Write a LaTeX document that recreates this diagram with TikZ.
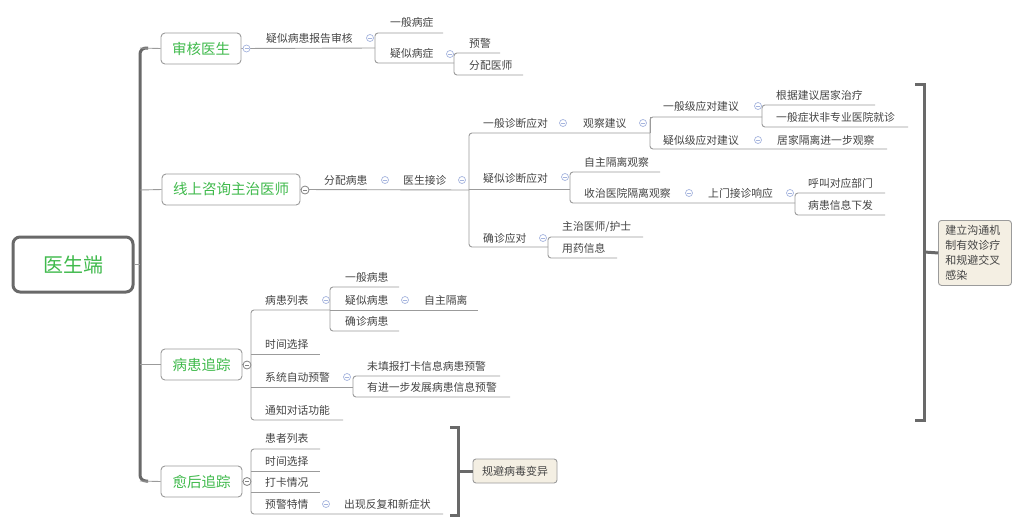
\documentclass[tikz,border=0pt]{standalone}
\usepackage{fontspec}
\newfontfamily\cjk{Noto Sans CJK SC}
\definecolor{grn}{RGB}{64,186,76}
\definecolor{tx}{RGB}{68,68,68}
\definecolor{lnc}{RGB}{155,155,155}
\definecolor{dk}{RGB}{105,105,105}
\definecolor{cb}{RGB}{165,180,222}
\definecolor{cg}{RGB}{130,130,130}
\definecolor{notef}{RGB}{244,239,227}
\newcommand{\tp}[4]{\node[txt] (#1) at (#2,#3) {#4};}
\begin{document}
\begin{tikzpicture}[x=1pt,y=-1pt,
  txt/.style={anchor=west, inner sep=0pt, font=\cjk\fontsize{10.8}{12}\selectfont, text=tx},
  ln/.style={draw=lnc, line width=0.9pt},
  brk/.style={draw=lnc, line width=0.9pt, rounded corners=3pt},
  trunk/.style={draw=dk, line width=3pt, rounded corners=6pt},
  bigbrk/.style={draw=dk, line width=3pt},
  box/.style={draw=lnc, line width=0.9pt, rounded corners=4pt, fill=white, inner sep=0pt,
    font=\cjk\fontsize{14.5}{16}\selectfont, text=grn, minimum height=31pt},
  rootbox/.style={draw=dk, line width=3pt, rounded corners=7pt, fill=white, inner sep=0pt,
    font=\cjk\fontsize{20}{22}\selectfont, text=grn, minimum width=120pt, minimum height=55pt},
  note/.style={draw=lnc, line width=0.9pt, rounded corners=3pt, fill=notef,
    font=\cjk\fontsize{11}{15}\selectfont, text=tx},
  colb/.style={circle, draw=cb, fill=white, line width=0.7pt, minimum size=7pt, inner sep=0pt,
    path picture={\draw[cb, line width=0.7pt] ([xshift=-2pt]path picture bounding box.center) -- ([xshift=2pt]path picture bounding box.center);}},
  colg/.style={circle, draw=cg, fill=white, line width=0.8pt, minimum size=8pt, inner sep=0pt,
    path picture={\draw[cg, line width=0.7pt] ([xshift=-2pt]path picture bounding box.center) -- ([xshift=2pt]path picture bounding box.center);}}
]
\useasboundingbox (0,0) rectangle (1024,530);
\fill[white] (0,0) rectangle (1024,530);

% ---------- trunk ----------
\draw[trunk] (148,48) -- (140,48) -- (140,481) -- (148,481);
\node[rootbox] (root) at (73,264.5) {医生端};
\node[box, minimum width=80pt] (A) at (201,48.5) {审核医生};
\node[box, minimum width=138pt] (B) at (231,189.5) {线上咨询主治医师};
\node[box, minimum width=81pt] (C) at (201.5,364.5) {病患追踪};
\node[box, minimum width=81pt] (D) at (201.5,481.5) {愈后追踪};
\coordinate (tA) at (140,48);
\coordinate (tB) at (140,190);
\coordinate (tC) at (140,364.5);
\coordinate (tD) at (140,481);
\coordinate (tR) at (140,264.5);
\draw[ln] (root.east) -- (tR);
\draw[ln] (tA) -- (A.west);
\draw[ln] (tB) -- (B.west);
\draw[ln] (tC) -- (C.west);
\draw[ln] (tD) -- (D.west);

% ---------- A subtree ----------
\draw[ln] (A.east) -- (375,48);
\node[colb] (cA) at (246.5,48.5) {};
\tp{a1}{266}{38}{疑似病患报告审核}
\node[colb] (ca1) at (370,38) {};
\draw[brk] (443,33) -- (375,33) -- (375,63) -- (454,63);
\tp{a11}{390}{22}{一般病症}
\tp{a12}{390}{53.5}{疑似病症}
\node[colb] (ca12) at (450,54) {};
\draw[brk] (500,53) -- (454,53) -- (454,75) -- (523,75);
\tp{a121}{469}{43}{预警}
\tp{a122}{469}{65}{分配医师}

% ---------- B subtree ----------
\draw[ln] (B.east) -- (469,190);
\node[colg] (cB) at (305,190) {};
\tp{b1}{324}{180}{分配病患}
\node[colb] (cb1) at (385,180) {};
\tp{b2}{403}{180}{医生接诊}
\node[colb] (cb2) at (462,180) {};
\draw[brk] (650,133) -- (469,133) -- (469,247) -- (548,247);
\draw[ln] (469,189) -- (570,189);
% 一般诊断应对
\tp{b21}{483}{123}{一般诊断应对}
\node[colb] (cb21) at (563,123) {};
\tp{b211}{583}{123}{观察建议}
\node[colb] (cb211) at (643,123) {};
\draw[brk] (762,117) -- (650,117) -- (650,149) -- (887,149);
\draw[ln] (650,133) -- (650,117);
\tp{b2111}{663}{106}{一般级应对建议}
\node[colb] (cb2111) at (758,106) {};
\draw[brk] (875,105) -- (762,105) -- (762,127) -- (908,127);
\tp{b21111}{776}{95}{根据建议居家治疗}
\tp{b21112}{776}{117}{一般症状非专业医院就诊}
\tp{b2112}{663}{140}{疑似级应对建议}
\node[colb] (cb2112) at (758,140) {};
\tp{b21121}{777}{140}{居家隔离进一步观察}
% 疑似诊断应对
\tp{b22}{483}{178}{疑似诊断应对}
\node[colb] (cb22) at (565,177) {};
\draw[brk] (660,172) -- (570,172) -- (570,203) -- (795,203);
\tp{b221}{584}{162}{自主隔离观察}
\tp{b222}{584}{193}{收治医院隔离观察}
\node[colb] (cb222) at (689,193) {};
\tp{b2221}{708}{193}{上门接诊响应}
\node[colb] (cb2221) at (790,193) {};
\draw[brk] (885,193) -- (795,193) -- (795,215) -- (885,215);
\tp{b22211}{808}{183}{呼叫对应部门}
\tp{b22212}{808}{205}{病患信息下发}
% 确诊应对
\tp{b23}{483}{238}{确诊应对}
\node[colb] (cb23) at (543,238) {};
\draw[brk] (643,237) -- (548,237) -- (548,258) -- (617,258);
\tp{b231}{562}{227}{主治医师/护士}
\tp{b232}{562}{248}{用药信息}

% big bracket right
\draw[bigbrk] (915,84) -- (924,84) -- (924,420) -- (915,420);
\coordinate (bk1) at (924,252);
\node[note, anchor=north west, minimum width=73pt, minimum height=65pt, text width=59pt, inner xsep=7pt, align=left] (n1) at (938,220) {建立沟通机\\制有效诊疗\\和规避交叉\\感染};
\draw[bigbrk] (bk1) -- (n1.west);

% ---------- C subtree ----------
\draw[ln] (C.east) -- (251,364.5);
\node[colg] (cC) at (247,365) {};
\draw[brk] (330,310) -- (251,310) -- (251,420) -- (343,420);
\tp{c1}{265}{300}{病患列表}
\node[colb] (cc1) at (326,300) {};
\draw[brk] (399,287) -- (330,287) -- (330,331) -- (399,331);
\draw[ln] (330,310) -- (478,310);
\tp{c11}{345}{277}{一般病患}
\tp{c12}{345}{300}{疑似病患}
\node[colb] (cc12) at (405,300) {};
\tp{c121}{424}{300}{自主隔离}
\tp{c13}{345}{321}{确诊病患}
\tp{c2}{265}{344}{时间选择}
\draw[ln] (251,354) -- (320,354);
\tp{c3}{265}{377}{系统自动预警}
\node[colb] (cc3) at (347,377) {};
\draw[ln] (251,387) -- (353,387);
\draw[brk] (500,376) -- (353,376) -- (353,397) -- (510,397);
\tp{c31}{367}{366}{未填报打卡信息病患预警}
\tp{c32}{367}{387}{有进一步发展病患信息预警}
\tp{c4}{265}{410}{通知对话功能}

% ---------- D subtree ----------
\draw[ln] (D.east) -- (251,481);
\node[colg] (cD) at (247,481.5) {};
\draw[brk] (320,449) -- (251,449) -- (251,514) -- (443,514);
\tp{d1}{265}{438}{患者列表}
\tp{d2}{265}{461}{时间选择}
\draw[ln] (251,471) -- (320,471);
\tp{d3}{265}{482}{打卡情况}
\draw[ln] (251,492) -- (320,492);
\tp{d4}{265}{504}{预警特情}
\node[colb] (cd4) at (326,504) {};
\tp{d41}{344}{504}{出现反复和新症状}

\draw[bigbrk] (450,427) -- (458,427) -- (458,515) -- (450,515);
\coordinate (bk2) at (458,471);
\node[note, minimum width=84pt, minimum height=24pt, inner sep=0pt] (n2) at (515,471) {规避病毒变异};
\draw[bigbrk] (bk2) -- (n2.west);
\end{tikzpicture}
\end{document}
